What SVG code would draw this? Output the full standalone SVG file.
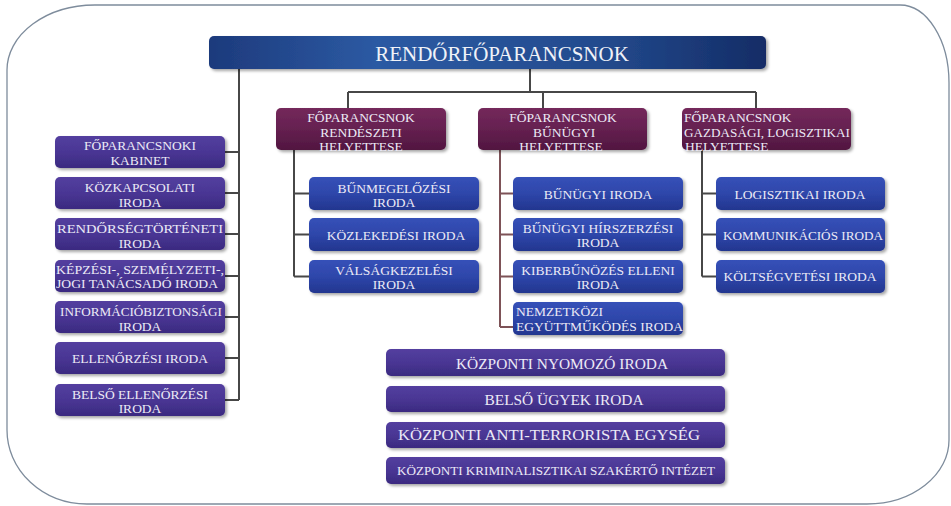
<svg xmlns="http://www.w3.org/2000/svg" width="951" height="506" viewBox="0 0 951 506">
<defs>
<linearGradient id="gTop" x1="0" y1="0" x2="1" y2="0">
<stop offset="0" stop-color="#1d3a7c"/><stop offset="0.3" stop-color="#2c5aa3"/><stop offset="0.7" stop-color="#234b8e"/><stop offset="1" stop-color="#142c66"/>
</linearGradient>
<linearGradient id="gMar" x1="0" y1="0" x2="0" y2="1">
<stop offset="0" stop-color="#74295b"/><stop offset="0.5" stop-color="#652050"/><stop offset="1" stop-color="#511640"/>
</linearGradient>
<linearGradient id="gBlue" x1="0" y1="0" x2="0" y2="1">
<stop offset="0" stop-color="#3651b8"/><stop offset="0.5" stop-color="#2e46aa"/><stop offset="1" stop-color="#23368f"/>
</linearGradient>
<linearGradient id="gPur" x1="0" y1="0" x2="0" y2="1">
<stop offset="0" stop-color="#533f9f"/><stop offset="0.5" stop-color="#4a3694"/><stop offset="1" stop-color="#3a2a80"/>
</linearGradient>
<filter id="sh" x="-10%" y="-20%" width="125%" height="150%">
<feDropShadow dx="2" dy="2" stdDeviation="1.5" flood-color="#000" flood-opacity="0.35"/>
</filter>
<style>
.t{font-family:"Liberation Serif","Times New Roman",serif;fill:#eceaf6;font-size:13.5px;text-anchor:middle}
.tl{text-anchor:start}
.big{font-size:21px;fill:#f0f2f8}
.bt{font-size:15px}
.ln{stroke:#474747;stroke-width:2;fill:none}
.lb{stroke:#7d5257;stroke-width:2;fill:none}
.top{fill:url(#gTop);filter:url(#sh)}
.mar{fill:url(#gMar);filter:url(#sh)}
.blu{fill:url(#gBlue);filter:url(#sh)}
.pur{fill:url(#gPur);filter:url(#sh)}
</style>
</defs>
<rect width="951" height="506" fill="#ffffff"/>
<path d="M 95 5 L 900 5 A 49 78 0 0 1 949 83 L 949 440 A 82 64 0 0 1 867 504 L 87 504 A 80 74 0 0 1 7 430 L 7 70 A 88 65 0 0 1 95 5 Z" fill="none" stroke="#7e8c9c" stroke-width="1.3"/>

<g id="connectors">
<path class="ln" d="M530 69 V92 M348 92 H756 M348 92 V108 M543 92 V108 M756 92 V108"/>
<path class="ln" d="M239 69 V400 M225 152 H239 M225 193 H239 M225 234 H239 M225 276 H239 M225 317 H239 M225 358 H239 M225 400 H239"/>
<path class="ln" d="M294 150 V276.5 M294 193.5 H309 M294 234.5 H309 M294 276.5 H309"/>
<path class="lb" d="M500 150 V327 M500 193.5 H513 M500 234.5 H513 M500 276.5 H513 M500 327 H513"/>
<path class="ln" d="M702 150 V276.5 M702 193.5 H716 M702 234.5 H716 M702 276.5 H716"/>
</g>

<g id="n-top"><rect class="top" x="209" y="36" width="557" height="33" rx="5"/><text class="t big" x="502" y="61">RENDŐRFŐPARANCSNOK</text></g>

<g id="n-rend"><rect class="mar" x="276" y="108" width="170" height="42" rx="5"/><text class="t" x="361" y="122">FŐPARANCSNOK</text><text class="t" x="361" y="136.5">RENDÉSZETI</text><text class="t" x="361" y="150.5">HELYETTESE</text></g>
<g id="n-bun"><rect class="mar" x="478" y="108" width="169" height="42" rx="5"/><text class="t" x="563" y="122">FŐPARANCSNOK</text><text class="t" x="564" y="136.5">BŰNÜGYI</text><text class="t" x="561" y="150.5">HELYETTESE</text></g>
<g id="n-gazd"><rect class="mar" x="682" y="108" width="169" height="42" rx="5"/><text class="t tl" x="684" y="122">FŐPARANCSNOK</text><text class="t tl" x="684" y="136.5" textLength="166" lengthAdjust="spacingAndGlyphs">GAZDASÁGI, LOGISZTIKAI</text><text class="t tl" x="685" y="150.5">HELYETTESE</text></g>

<g id="n-kabinet"><rect class="pur" x="55" y="136" width="170" height="32" rx="5"/><text class="t" x="140" y="150">FŐPARANCSNOKI</text><text class="t" x="140" y="164.5">KABINET</text></g>
<g id="n-kozkap"><rect class="pur" x="55" y="177" width="170" height="32" rx="5"/><text class="t" x="140" y="192">KÖZKAPCSOLATI</text><text class="t" x="140" y="206.5">IRODA</text></g>
<g id="n-rendtort"><rect class="pur" x="55" y="218" width="170" height="32" rx="5"/><text class="t" x="140" y="233" textLength="166" lengthAdjust="spacingAndGlyphs">RENDŐRSÉGTÖRTÉNETI</text><text class="t" x="140" y="247.5">IRODA</text></g>
<g id="n-kepzesi"><rect class="pur" x="55" y="260" width="170" height="32" rx="5"/><text class="t" x="140" y="274" textLength="168" lengthAdjust="spacingAndGlyphs">KÉPZÉSI-, SZEMÉLYZETI-,</text><text class="t" x="137" y="288" textLength="162" lengthAdjust="spacingAndGlyphs">JOGI TANÁCSADÓ IRODA</text></g>
<g id="n-infobizt"><rect class="pur" x="55" y="301" width="170" height="32" rx="5"/><text class="t" x="141" y="316" textLength="162" lengthAdjust="spacingAndGlyphs">INFORMÁCIÓBIZTONSÁGI</text><text class="t" x="140" y="330.5">IRODA</text></g>
<g id="n-ellen"><rect class="pur" x="55" y="342" width="170" height="32" rx="5"/><text class="t" x="140" y="363">ELLENŐRZÉSI IRODA</text></g>
<g id="n-belsoell"><rect class="pur" x="55" y="384" width="170" height="32" rx="5"/><text class="t" x="140" y="398.5">BELSŐ ELLENŐRZÉSI</text><text class="t" x="140" y="413">IRODA</text></g>

<g id="n-bunmeg"><rect class="blu" x="309" y="177" width="170" height="33" rx="5"/><text class="t" x="394" y="192.5">BŰNMEGELŐZÉSI</text><text class="t" x="394" y="206.5">IRODA</text></g>
<g id="n-kozlek"><rect class="blu" x="309" y="218" width="170" height="33" rx="5"/><text class="t" x="396" y="239.5">KÖZLEKEDÉSI IRODA</text></g>
<g id="n-valsag"><rect class="blu" x="309" y="260" width="170" height="33" rx="5"/><text class="t" x="394" y="275">VÁLSÁGKEZELÉSI</text><text class="t" x="394" y="289">IRODA</text></g>

<g id="n-bunugyi"><rect class="blu" x="513" y="177" width="170" height="33" rx="5"/><text class="t" x="598" y="198.5">BŰNÜGYI IRODA</text></g>
<g id="n-hirszerz"><rect class="blu" x="513" y="218" width="170" height="33" rx="5"/><text class="t" x="598" y="233">BŰNÜGYI HÍRSZERZÉSI</text><text class="t" x="598" y="247">IRODA</text></g>
<g id="n-kiber"><rect class="blu" x="513" y="260" width="170" height="33" rx="5"/><text class="t" x="598" y="275">KIBERBŰNÖZÉS ELLENI</text><text class="t" x="598" y="289">IRODA</text></g>
<g id="n-nemzetkozi"><rect class="blu" x="513" y="302" width="170" height="33" rx="5"/><text class="t tl" x="516" y="316">NEMZETKÖZI</text><text class="t tl" x="516" y="331" textLength="167" lengthAdjust="spacingAndGlyphs">EGYÜTTMŰKÖDÉS IRODA</text></g>

<g id="n-logiszt"><rect class="blu" x="716" y="177" width="169" height="33" rx="5"/><text class="t" x="800" y="198.5">LOGISZTIKAI IRODA</text></g>
<g id="n-kommun"><rect class="blu" x="716" y="218" width="169" height="33" rx="5"/><text class="t" x="803" y="239.5" textLength="160" lengthAdjust="spacingAndGlyphs">KOMMUNIKÁCIÓS IRODA</text></g>
<g id="n-koltseg"><rect class="blu" x="716" y="260" width="169" height="33" rx="5"/><text class="t" x="800" y="281">KÖLTSÉGVETÉSI IRODA</text></g>

<g id="n-kni"><rect class="pur" x="386" y="349" width="339" height="27" rx="5"/><text class="t bt" x="562" y="369" textLength="212" lengthAdjust="spacingAndGlyphs">KÖZPONTI NYOMOZÓ IRODA</text></g>
<g id="n-bui"><rect class="pur" x="386" y="386" width="339" height="26" rx="5"/><text class="t bt" x="564" y="405" textLength="159" lengthAdjust="spacingAndGlyphs">BELSŐ ÜGYEK IRODA</text></g>
<g id="n-tek"><rect class="pur" x="386" y="422" width="339" height="26" rx="5"/><text class="t bt" x="549" y="440" textLength="302" lengthAdjust="spacingAndGlyphs">KÖZPONTI ANTI-TERRORISTA EGYSÉG</text></g>
<g id="n-kszi"><rect class="pur" x="386" y="457" width="339" height="27" rx="5"/><text class="t" x="556" y="475" textLength="318" lengthAdjust="spacingAndGlyphs">KÖZPONTI KRIMINALISZTIKAI SZAKÉRTŐ INTÉZET</text></g>
</svg>
